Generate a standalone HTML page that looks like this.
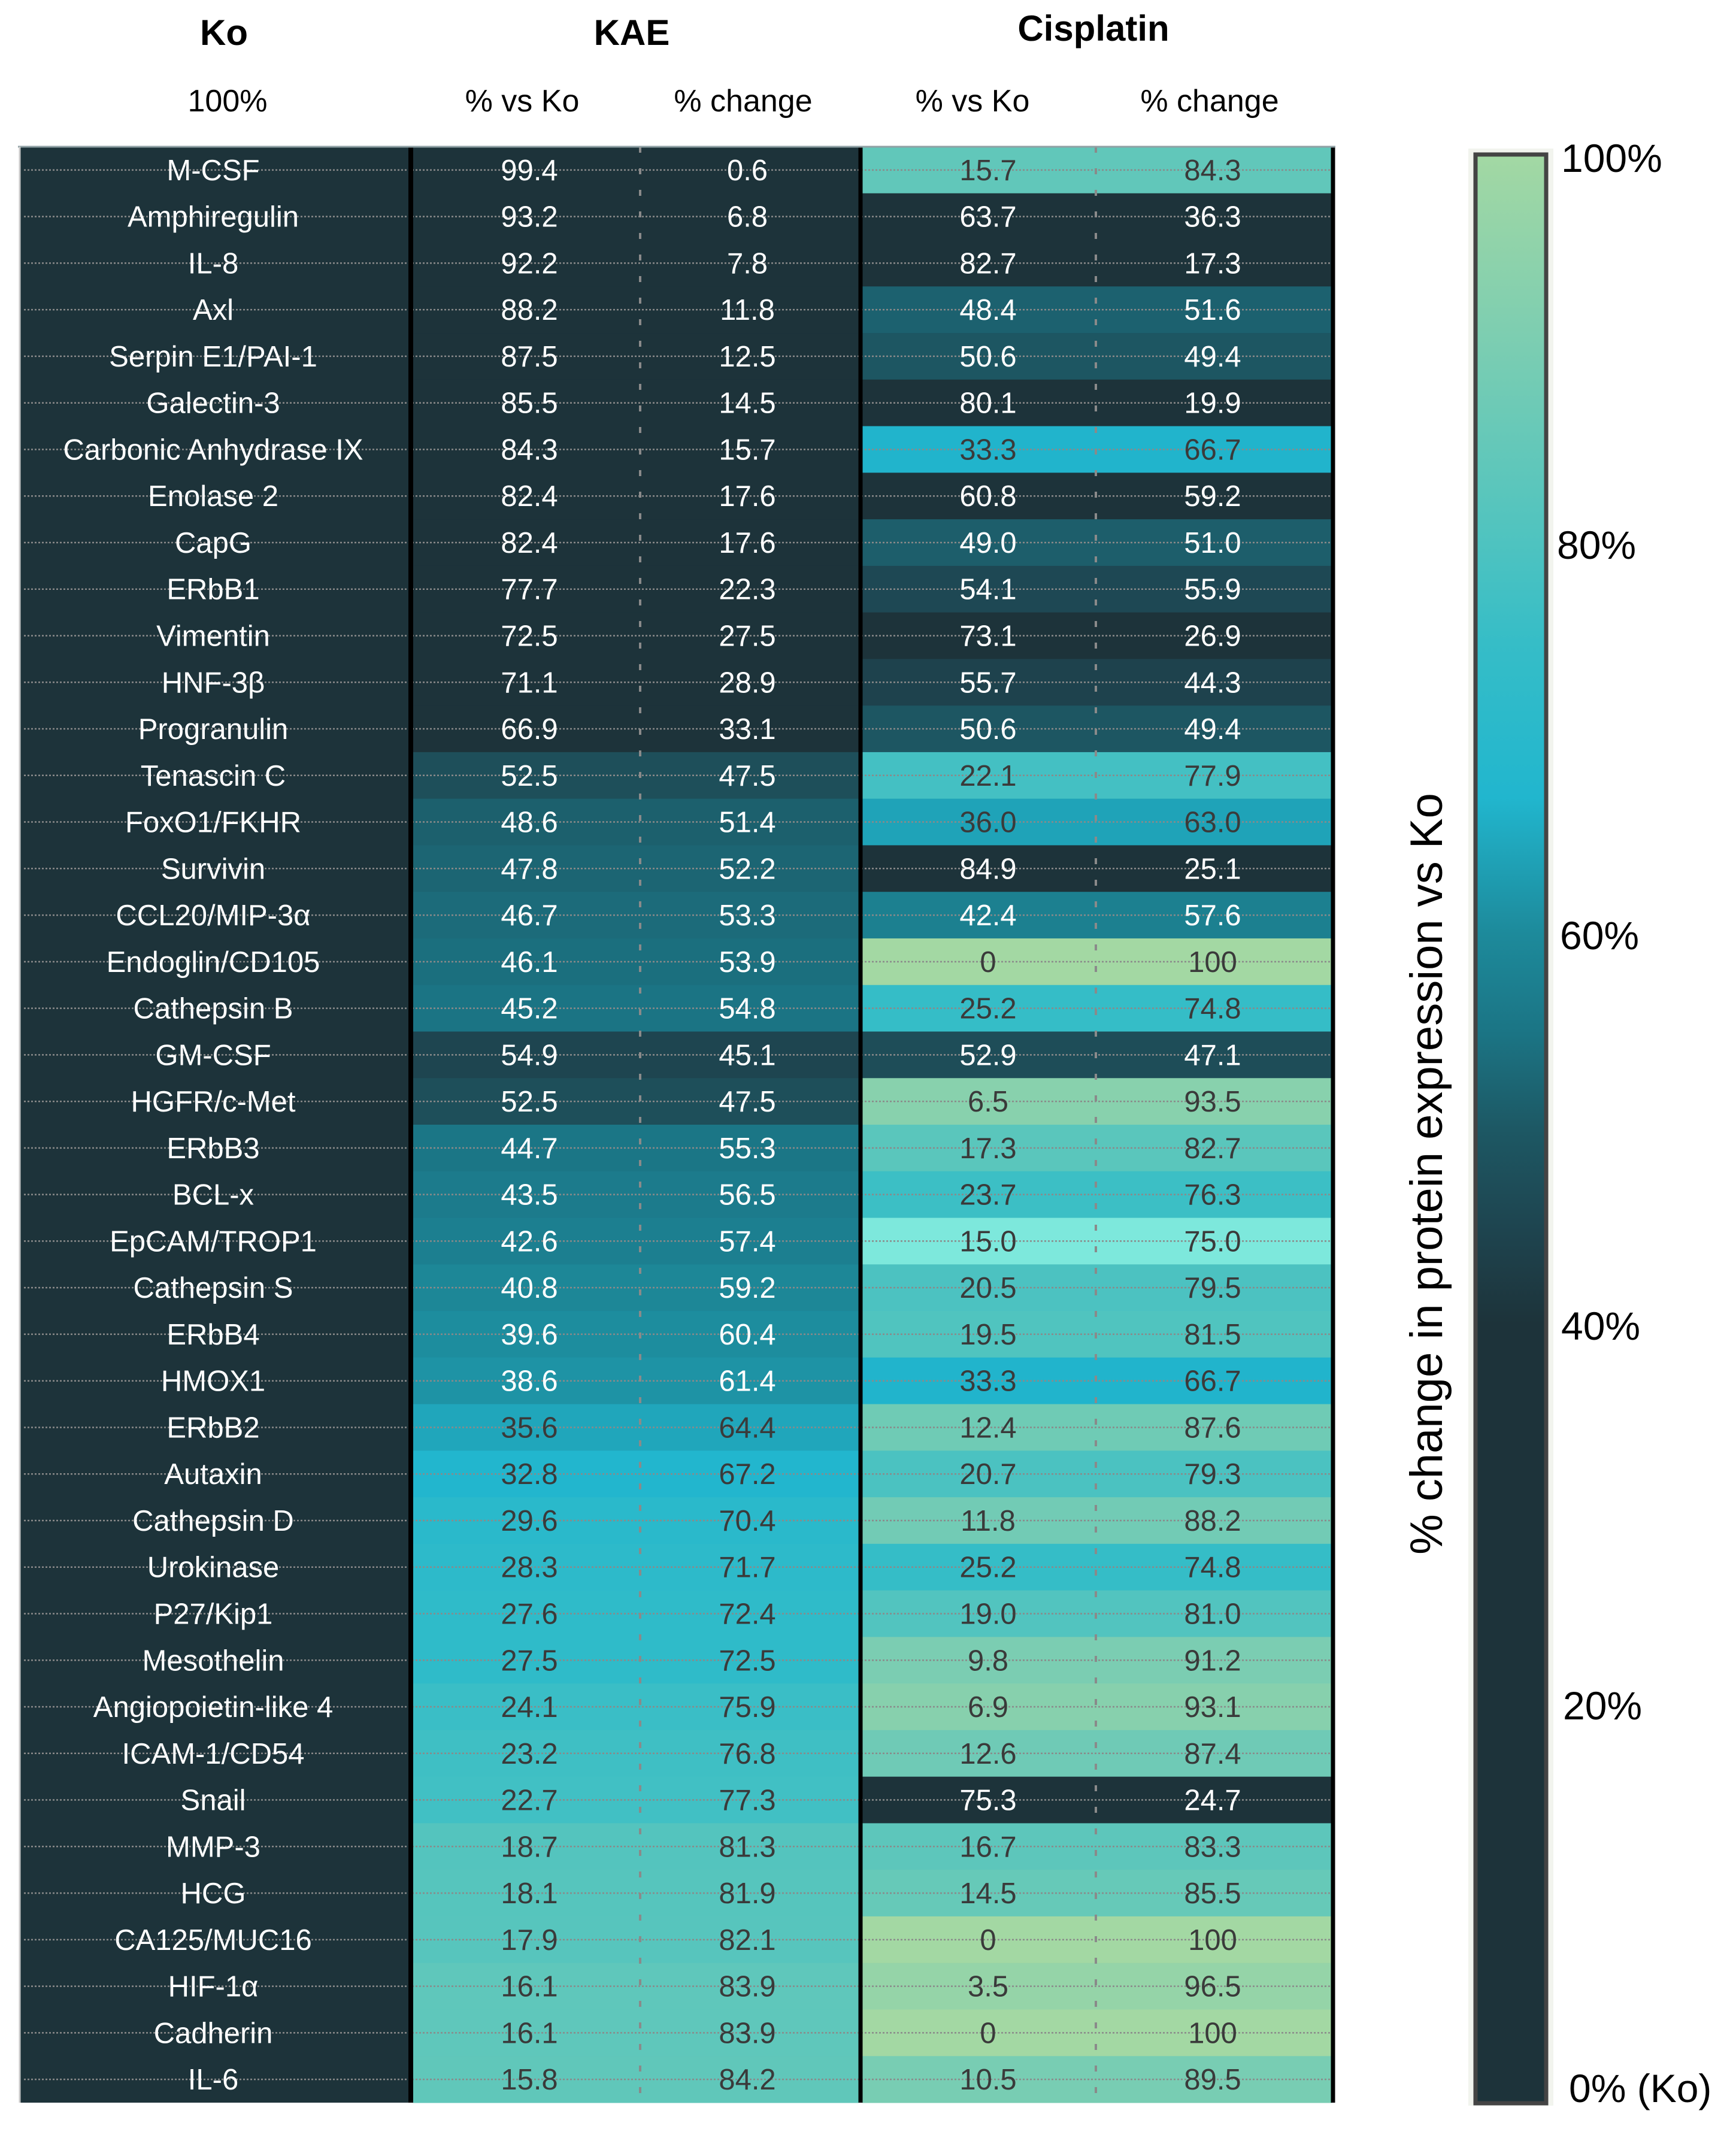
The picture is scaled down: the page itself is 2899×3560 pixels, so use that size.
<!DOCTYPE html>
<html><head><meta charset="utf-8">
<style>
html,body{margin:0;padding:0;background:#fff;}
svg{display:block;font-family:"Liberation Sans",sans-serif;}
</style></head>
<body>
<svg id="chart" width="2899" height="3560" viewBox="0 0 2899 3560" xmlns="http://www.w3.org/2000/svg">
<defs>
<linearGradient id="cbar" x1="0" y1="1" x2="0" y2="0">
<stop offset="0" stop-color="#1d333a"/><stop offset="0.40" stop-color="#1d333a"/>
<stop offset="0.45" stop-color="#1e4550"/><stop offset="0.50" stop-color="#1d5864"/>
<stop offset="0.55" stop-color="#1b7585"/><stop offset="0.60" stop-color="#1d8a9b"/>
<stop offset="0.67" stop-color="#21b6ce"/><stop offset="0.75" stop-color="#36bdc7"/>
<stop offset="0.80" stop-color="#4ec3c0"/><stop offset="0.90" stop-color="#7acdb2"/>
<stop offset="1" stop-color="#a3d8a3"/>
</linearGradient>
</defs>
<g id="headers">
<text x="374" y="75" font-size="60" font-weight="bold" text-anchor="middle">Ko</text>
<text x="1055" y="75" font-size="60" font-weight="bold" text-anchor="middle">KAE</text>
<text x="1826" y="68" font-size="60" font-weight="bold" text-anchor="middle">Cisplatin</text>
<text x="380" y="186" font-size="52" text-anchor="middle">100%</text>
<text x="872" y="186" font-size="52" text-anchor="middle">% vs Ko</text>
<text x="1241" y="186" font-size="52" text-anchor="middle">% change</text>
<text x="1624" y="186" font-size="52" text-anchor="middle">% vs Ko</text>
<text x="2020" y="186" font-size="52" text-anchor="middle">% change</text>
</g>
<g id="table"></g>
<g id="colorbar">
<rect x="2452" y="248" width="142" height="3268" fill="#f2f4ee"/>
<rect x="2464" y="258" width="118" height="3254" fill="url(#cbar)" stroke="#444" stroke-width="7"/>
<text x="2607" y="287" font-size="66">100%</text>
<text x="2600" y="933" font-size="66">80%</text>
<text x="2605" y="1585" font-size="66">60%</text>
<text x="2607" y="2237" font-size="66">40%</text>
<text x="2610" y="2871" font-size="66">20%</text>
<text x="2620" y="3510" font-size="66">0% (Ko)</text>
<text transform="translate(2408,1960) rotate(-90)" font-size="76" text-anchor="middle">% change in protein expression vs Ko</text>
</g>
</svg>
<script>
const labels = ["M-CSF","Amphiregulin","IL-8","Axl","Serpin E1/PAI-1","Galectin-3","Carbonic Anhydrase IX","Enolase 2","CapG","ERbB1","Vimentin","HNF-3β","Progranulin","Tenascin C","FoxO1/FKHR","Survivin","CCL20/MIP-3α","Endoglin/CD105","Cathepsin B","GM-CSF","HGFR/c-Met","ERbB3","BCL-x","EpCAM/TROP1","Cathepsin S","ERbB4","HMOX1","ERbB2","Autaxin","Cathepsin D","Urokinase","P27/Kip1","Mesothelin","Angiopoietin-like 4","ICAM-1/CD54","Snail","MMP-3","HCG","CA125/MUC16","HIF-1α","Cadherin","IL-6"];
const kaeVs = ["99.4","93.2","92.2","88.2","87.5","85.5","84.3","82.4","82.4","77.7","72.5","71.1","66.9","52.5","48.6","47.8","46.7","46.1","45.2","54.9","52.5","44.7","43.5","42.6","40.8","39.6","38.6","35.6","32.8","29.6","28.3","27.6","27.5","24.1","23.2","22.7","18.7","18.1","17.9","16.1","16.1","15.8"];
const kaeChange = ["0.6","6.8","7.8","11.8","12.5","14.5","15.7","17.6","17.6","22.3","27.5","28.9","33.1","47.5","51.4","52.2","53.3","53.9","54.8","45.1","47.5","55.3","56.5","57.4","59.2","60.4","61.4","64.4","67.2","70.4","71.7","72.4","72.5","75.9","76.8","77.3","81.3","81.9","82.1","83.9","83.9","84.2"];
const cisVs = ["15.7","63.7","82.7","48.4","50.6","80.1","33.3","60.8","49.0","54.1","73.1","55.7","50.6","22.1","36.0","84.9","42.4","0","25.2","52.9","6.5","17.3","23.7","15.0","20.5","19.5","33.3","12.4","20.7","11.8","25.2","19.0","9.8","6.9","12.6","75.3","16.7","14.5","0","3.5","0","10.5"];
const cisChange = ["84.3","36.3","17.3","51.6","49.4","19.9","66.7","59.2","51.0","55.9","26.9","44.3","49.4","77.9","63.0","25.1","57.6","100","74.8","47.1","93.5","82.7","76.3","75.0","79.5","81.5","66.7","87.6","79.3","88.2","74.8","81.0","91.2","93.1","87.4","24.7","83.3","85.5","100","96.5","100","89.5"];

const stops=[[0,"#1d333a"],[40,"#1d333a"],[45,"#1e4550"],[50,"#1d5864"],[55,"#1b7585"],[60,"#1d8a9b"],[67,"#21b6ce"],[75,"#36bdc7"],[80,"#4ec3c0"],[90,"#7acdb2"],[100,"#a3d8a3"]];
function hex(c){return [1,3,5].map(i=>parseInt(c.substr(i,2),16));}
function colorFor(v){
  v=Math.max(0,Math.min(100,v));
  for(let i=1;i<stops.length;i++){
    if(v<=stops[i][0]){
      const a=stops[i-1],b=stops[i],t=(v-a[0])/(b[0]-a[0]||1);
      const ca=hex(a[1]),cb=hex(b[1]);
      return "rgb("+ca.map((x,k)=>Math.round(x+(cb[k]-x)*t)).join(",")+")";
    }
  }
  return stops[stops.length-1][1];
}
const NS="http://www.w3.org/2000/svg";
const g=document.getElementById("table");
const top0=245, bottom=3511, n=labels.length, rh=(bottom-top0)/n;
function rowY(i){return top0+i*rh;}
function mk(tag,attrs){const e=document.createElementNS(NS,tag);for(const k in attrs)e.setAttribute(k,attrs[k]);g.appendChild(e);return e;}
let e=mk("rect",{x:32,y:top0,width:654,height:bottom-top0,fill:"#1d333a"});


for(let i=0;i<n;i++){
  const y=rowY(i), cy=y+rh/2;
  const kv=100-parseFloat(kaeVs[i]), cv=100-parseFloat(cisVs[i]);
  let r=mk("rect",{x:690,y:y,width:744,height:rh+0.5,fill:colorFor(kv)});
  
  
  let c2=mk("rect",{x:1440,y:y,width:784,height:rh+0.5,fill:labels[i]==="EpCAM/TROP1"?"#7de8dc":colorFor(cv)});
  
  
  let ln=mk("line",{x1:40,x2:2224,y1:cy,y2:cy,stroke:"#8a8a8a","stroke-width":2.5,"stroke-dasharray":"3 3"});
  
  
  const kcol=kv>63?"#3a3a3a":"#ffffff", ccol=cv>63?"#3a3a3a":"#ffffff";
  const ty=cy+17;
  let t=mk("text",{x:356,y:ty,"font-size":49,"text-anchor":"middle",fill:"#ffffff"});t.textContent=labels[i];
  
  
  t=mk("text",{x:884,y:ty,"font-size":49,"text-anchor":"middle",fill:kcol});t.textContent=kaeVs[i];
  
  
  t=mk("text",{x:1248,y:ty,"font-size":49,"text-anchor":"middle",fill:kcol});t.textContent=kaeChange[i];
  
  
  t=mk("text",{x:1650,y:ty,"font-size":49,"text-anchor":"middle",fill:ccol});t.textContent=cisVs[i];
  
  
  t=mk("text",{x:2025,y:ty,"font-size":49,"text-anchor":"middle",fill:ccol});t.textContent=cisChange[i];
  
  
}
[[1069],[1830]].forEach(([x])=>{
  let l=mk("line",{x1:x,x2:x,y1:top0,y2:bottom,stroke:"#8a8a8a","stroke-width":4,"stroke-dasharray":"10 26"});
  
  
});
[[686,8],[1437,7],[2226,7]].forEach(([x,w])=>{
  let l=mk("line",{x1:x,x2:x,y1:top0,y2:bottom,stroke:"#000","stroke-width":w});
  
  
});
let tl=mk("line",{x1:30,x2:2230,y1:top0,y2:top0,stroke:"#8fa0a4","stroke-width":3});


let ll=mk("line",{x1:33,x2:33,y1:top0,y2:bottom,stroke:"#c8c8c8","stroke-width":3});


</script>
</body></html>
